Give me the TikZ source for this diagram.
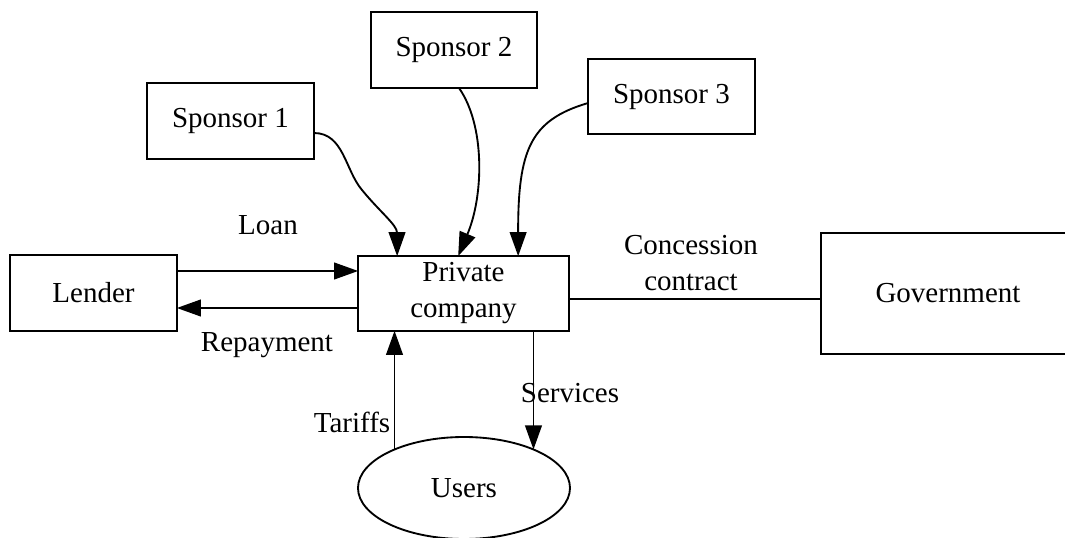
\documentclass[tikz,border=0pt]{standalone}
\usepackage{fontspec}
\setmainfont{Liberation Serif}
\usetikzlibrary{arrows.meta,shapes.geometric,calc}
\begin{document}
\begin{tikzpicture}[x=0.75pt,y=-0.75pt,
  every node/.style={font=\fontsize{21.75pt}{27pt}\selectfont},
  box/.style={draw,line width=1.4pt,inner sep=0pt,outer sep=0pt,align=center},
  oval/.style={draw,ellipse,line width=1.4pt,inner sep=0pt,outer sep=0pt},
  lbl/.style={inner sep=0pt,align=center},
  link/.style={line width=1.4pt},
  arr/.style={line width=1.4pt,-{Triangle[length=18pt,width=12.5pt]}}]
\useasboundingbox (0,0) rectangle (1065,538);

% parties
\node[box,minimum width=125pt,minimum height=57pt] (s1) at (230.5,121) {Sponsor 1};
\node[box,minimum width=124.5pt,minimum height=57pt] (s2) at (454,50) {Sponsor 2};
\node[box,minimum width=125pt,minimum height=56pt] (s3) at (671.5,96.5) {Sponsor 3};
\node[box,minimum width=125pt,minimum height=57pt] (lender) at (93.5,293) {Lender};
\node[box,minimum width=158pt,minimum height=56pt] (pc) at (463.5,293.5) {Private\\company};
\node[box,minimum width=190.5pt,minimum height=91pt] (gov) at (948,293.5) {Government};
\node[oval,minimum width=159pt,minimum height=76.5pt] (users) at (464,488) {Users};

% equity from the sponsors
\draw[arr] ($(s1.east)+(0,12)$) .. controls +(30,0) and (345,170) .. (362,190)
  .. controls (380,212) and (397,225) .. ($(pc.north west)+(39,0)$);
\draw[arr] ($(s2.south)+(5,0)$) .. controls +(26,37) and (484,195) .. ($(pc.north west)+(100,0)$);
\draw[arr] ($(s3.west)+(0,6.5)$) .. controls +(-58,17) and (518,150) .. ($(pc.north west)+(160,0)$);

% debt flows
\draw[arr] ($(lender.east)+(0,-22)$) -- ($(pc.west)+(0,-22.5)$);
\draw[arr] ($(pc.west)+(0,14.5)$) -- ($(lender.east)+(0,15)$);

% concession contract
\draw[link] (pc.east |- 0,299) -- (gov.west |- 0,299);

% users
\draw[arr] (users.151) -- (users.151 |- pc.south);
\draw[arr] (pc.south -| users.29) -- (users.29);

% labels
\node[lbl] (loan) at (268,225) {Loan};
\node[lbl] (repay) at (267,345) {Repayment};
\node[lbl] (conc) at (691,263) {Concession\\contract};
\node[lbl] (tariffs) at (352,422) {Tariffs};
\node[lbl] (services) at (570,393) {Services};
\end{tikzpicture}
\end{document}
